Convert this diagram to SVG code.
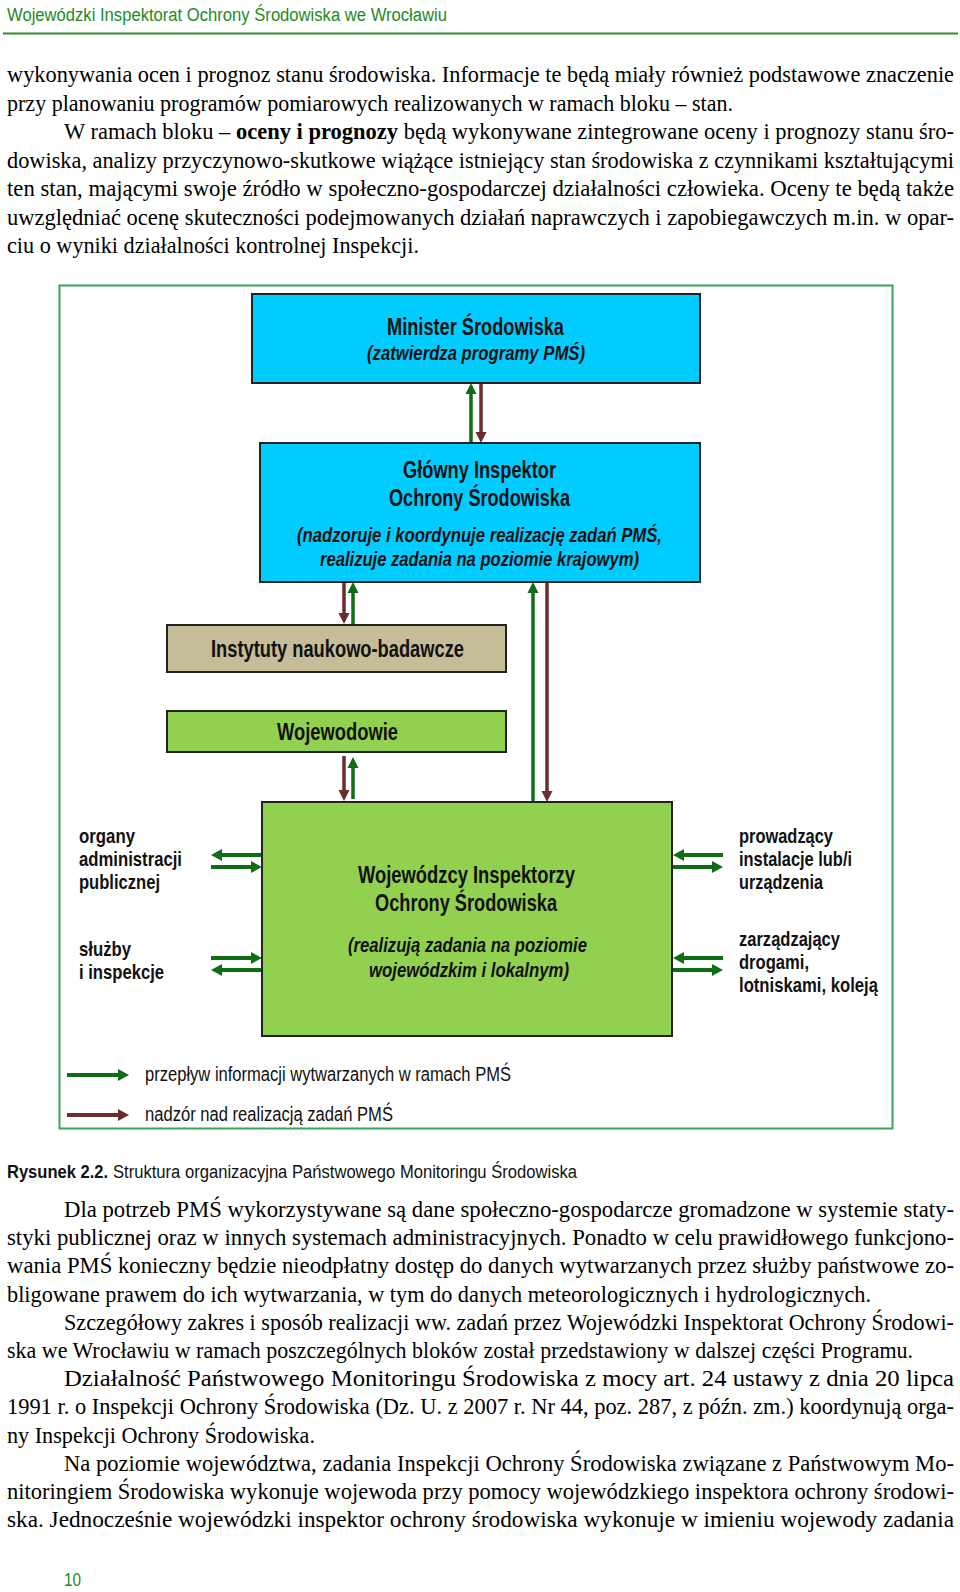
<svg xmlns="http://www.w3.org/2000/svg" width="960" height="1592" viewBox="0 0 960 1592">
<style>
.body{font-family:"Liberation Serif","Times New Roman",serif;font-size:22.5px;fill:#000}
.b{font-weight:bold}
.hd{font-family:"Liberation Sans",Arial,sans-serif;font-weight:bold;font-size:23px;fill:#111}
.it{font-family:"Liberation Sans",Arial,sans-serif;font-weight:bold;font-style:italic;font-size:19.5px;fill:#111}
.lb{font-family:"Liberation Sans",Arial,sans-serif;font-weight:bold;font-size:20.5px;fill:#111}
.lg{font-family:"Liberation Sans",Arial,sans-serif;font-size:19.5px;fill:#111}
.box{stroke:#222;stroke-width:2}
.g{stroke:#0d6e16;fill:none}
.r{stroke:#6e2b2b;fill:none}
.v{stroke-width:3.5}
.h{stroke-width:4}
</style>
<defs>
<marker id="gv" markerUnits="userSpaceOnUse" markerWidth="11" markerHeight="11" refX="0" refY="5.5" orient="auto" overflow="visible"><path d="M0,0 L11,5.5 L0,11 z" fill="#0d6e16"/></marker>
<marker id="rv" markerUnits="userSpaceOnUse" markerWidth="11" markerHeight="11" refX="0" refY="5.5" orient="auto" overflow="visible"><path d="M0,0 L11,5.5 L0,11 z" fill="#6e2b2b"/></marker>
<marker id="gh" markerUnits="userSpaceOnUse" markerWidth="11" markerHeight="12" refX="0" refY="6" orient="auto" overflow="visible"><path d="M0,0 L11,6 L0,12 z" fill="#0d6e16"/></marker>
<marker id="rh" markerUnits="userSpaceOnUse" markerWidth="11" markerHeight="12" refX="0" refY="6" orient="auto" overflow="visible"><path d="M0,0 L11,6 L0,12 z" fill="#6e2b2b"/></marker>
</defs>
<rect width="960" height="1592" fill="#fff"/>

<!-- header -->
<text x="7" y="21" font-family="Liberation Sans, Arial, sans-serif" font-size="18" fill="#1e8a1e" textLength="440" lengthAdjust="spacingAndGlyphs">Wojewódzki Inspektorat Ochrony Środowiska we Wrocławiu</text>
<line x1="3" y1="33.5" x2="958" y2="33.5" stroke="#2e8b2e" stroke-width="2"/>

<!-- top body text -->
<g class="body">
<text x="7" y="82" textLength="947" lengthAdjust="spacingAndGlyphs">wykonywania ocen i prognoz stanu środowiska. Informacje te będą miały również podstawowe znaczenie</text>
<text x="7" y="110.5" textLength="726" lengthAdjust="spacingAndGlyphs">przy planowaniu programów pomiarowych realizowanych w ramach bloku – stan.</text>
<text x="64" y="139" textLength="890" lengthAdjust="spacingAndGlyphs">W ramach bloku – <tspan class="b">oceny i prognozy</tspan> będą wykonywane zintegrowane oceny i prognozy stanu śro-</text>
<text x="7" y="167.5" textLength="947" lengthAdjust="spacingAndGlyphs">dowiska, analizy przyczynowo-skutkowe wiążące istniejący stan środowiska z czynnikami kształtującymi</text>
<text x="7" y="196" textLength="947" lengthAdjust="spacingAndGlyphs">ten stan, mającymi swoje źródło w społeczno-gospodarczej działalności człowieka. Oceny te będą także</text>
<text x="7" y="224.5" textLength="947" lengthAdjust="spacingAndGlyphs">uwzględniać ocenę skuteczności podejmowanych działań naprawczych i zapobiegawczych m.in. w opar-</text>
<text x="7" y="253" textLength="412" lengthAdjust="spacingAndGlyphs">ciu o wyniki działalności kontrolnej Inspekcji.</text>
</g>

<!-- frame -->
<rect id="frame" x="59.5" y="285.5" width="833" height="843" fill="none" stroke="#3aa35a" stroke-width="2"/>

<!-- connectors -->
<g id="connectors">
<line class="g v" x1="471" y1="443" x2="471" y2="394" marker-end="url(#gv)"/>
<line class="r v" x1="481" y1="383" x2="481" y2="432" marker-end="url(#rv)"/>
<line class="r v" x1="344" y1="582" x2="344" y2="613" marker-end="url(#rv)"/>
<line class="g v" x1="353" y1="624" x2="353" y2="593" marker-end="url(#gv)"/>
<line class="g v" x1="533" y1="802" x2="533" y2="593" marker-end="url(#gv)"/>
<line class="r v" x1="547" y1="582" x2="547" y2="791" marker-end="url(#rv)"/>
<line class="r v" x1="344" y1="756" x2="344" y2="790" marker-end="url(#rv)"/>
<line class="g v" x1="353" y1="799" x2="353" y2="768" marker-end="url(#gv)"/>
<!-- left side -->
<line class="g h" x1="262" y1="855" x2="222" y2="855" marker-end="url(#gh)"/>
<line class="g h" x1="211" y1="867" x2="251" y2="867" marker-end="url(#gh)"/>
<line class="g h" x1="211" y1="958" x2="251" y2="958" marker-end="url(#gh)"/>
<line class="g h" x1="262" y1="970" x2="222" y2="970" marker-end="url(#gh)"/>
<!-- right side -->
<line class="g h" x1="723" y1="855" x2="684" y2="855" marker-end="url(#gh)"/>
<line class="g h" x1="673" y1="867" x2="712" y2="867" marker-end="url(#gh)"/>
<line class="g h" x1="723" y1="958" x2="684" y2="958" marker-end="url(#gh)"/>
<line class="g h" x1="673" y1="970" x2="712" y2="970" marker-end="url(#gh)"/>
</g>

<g id="minister">
<rect class="box" x="252" y="294" width="448" height="89" fill="#00ccff"/>
<text class="hd" x="387" y="335" textLength="177" lengthAdjust="spacingAndGlyphs">Minister Środowiska</text>
<text class="it" x="367" y="360" textLength="218" lengthAdjust="spacingAndGlyphs">(zatwierdza programy PMŚ)</text>
</g>

<g id="gios">
<rect class="box" x="260" y="443" width="440" height="139" fill="#00ccff"/>
<text class="hd" x="403" y="478" textLength="153" lengthAdjust="spacingAndGlyphs">Główny Inspektor</text>
<text class="hd" x="389" y="506" textLength="181" lengthAdjust="spacingAndGlyphs">Ochrony Środowiska</text>
<text class="it" x="297" y="542" textLength="365" lengthAdjust="spacingAndGlyphs">(nadzoruje i koordynuje realizację zadań PMŚ,</text>
<text class="it" x="320" y="566" textLength="319" lengthAdjust="spacingAndGlyphs">realizuje zadania na poziomie krajowym)</text>
</g>

<g id="instytuty">
<rect class="box" x="167" y="625" width="339" height="47" fill="#c4bd97"/>
<text class="hd" x="211" y="657" font-size="22" textLength="253" lengthAdjust="spacingAndGlyphs">Instytuty naukowo-badawcze</text>
</g>

<g id="wojewodowie">
<rect class="box" x="167" y="711" width="339" height="41" fill="#92d050"/>
<text class="hd" x="277" y="740" font-size="22" textLength="121" lengthAdjust="spacingAndGlyphs">Wojewodowie</text>
</g>

<g id="wios">
<rect class="box" x="262" y="802" width="410" height="234" fill="#92d050"/>
<text class="hd" x="358" y="883" font-size="22" textLength="217" lengthAdjust="spacingAndGlyphs">Wojewódzcy Inspektorzy</text>
<text class="hd" x="375" y="911" font-size="22" textLength="182" lengthAdjust="spacingAndGlyphs">Ochrony Środowiska</text>
<text class="it" x="348" y="952" textLength="239" lengthAdjust="spacingAndGlyphs">(realizują zadania na poziomie</text>
<text class="it" x="369" y="977" textLength="200" lengthAdjust="spacingAndGlyphs">wojewódzkim i lokalnym)</text>
</g>

<g id="organy">
<text class="lb" x="79" y="843" textLength="56" lengthAdjust="spacingAndGlyphs">organy</text>
<text class="lb" x="79" y="866" textLength="103" lengthAdjust="spacingAndGlyphs">administracji</text>
<text class="lb" x="79" y="889" textLength="81" lengthAdjust="spacingAndGlyphs">publicznej</text>
</g>
<g id="sluzby">
<text class="lb" x="79" y="956" textLength="52" lengthAdjust="spacingAndGlyphs">służby</text>
<text class="lb" x="79" y="979" textLength="85" lengthAdjust="spacingAndGlyphs">i inspekcje</text>
</g>
<g id="prowadzacy">
<text class="lb" x="739" y="843" textLength="94" lengthAdjust="spacingAndGlyphs">prowadzący</text>
<text class="lb" x="739" y="866" textLength="113" lengthAdjust="spacingAndGlyphs">instalacje lub/i</text>
<text class="lb" x="739" y="889" textLength="84" lengthAdjust="spacingAndGlyphs">urządzenia</text>
</g>
<g id="zarzadzajacy">
<text class="lb" x="739" y="946" textLength="101" lengthAdjust="spacingAndGlyphs">zarządzający</text>
<text class="lb" x="739" y="969" textLength="70" lengthAdjust="spacingAndGlyphs">drogami,</text>
<text class="lb" x="739" y="992" textLength="139" lengthAdjust="spacingAndGlyphs">lotniskami, koleją</text>
</g>

<g id="legend">
<line class="g h" x1="67" y1="1075" x2="118" y2="1075" marker-end="url(#gh)"/>
<text class="lg" x="145" y="1081" textLength="366" lengthAdjust="spacingAndGlyphs">przepływ informacji wytwarzanych w ramach PMŚ</text>
<line class="r h" x1="67" y1="1115" x2="118" y2="1115" marker-end="url(#rh)"/>
<text class="lg" x="145" y="1121" textLength="248" lengthAdjust="spacingAndGlyphs">nadzór nad realizacją zadań PMŚ</text>
</g>

<!-- caption -->
<text x="7" y="1178" font-family="Liberation Sans, Arial, sans-serif" font-size="18" font-weight="bold" fill="#111" textLength="101" lengthAdjust="spacingAndGlyphs">Rysunek 2.2.</text>
<text x="113" y="1178" font-family="Liberation Sans, Arial, sans-serif" font-size="18" fill="#111" textLength="464" lengthAdjust="spacingAndGlyphs">Struktura organizacyjna Państwowego Monitoringu Środowiska</text>

<!-- lower body text -->
<g class="body">
<text x="64" y="1217" textLength="890" lengthAdjust="spacingAndGlyphs">Dla potrzeb PMŚ wykorzystywane są dane społeczno-gospodarcze gromadzone w systemie staty-</text>
<text x="7" y="1245.2" textLength="947" lengthAdjust="spacingAndGlyphs">styki publicznej oraz w innych systemach administracyjnych. Ponadto w celu prawidłowego funkcjono-</text>
<text x="7" y="1273.4" textLength="947" lengthAdjust="spacingAndGlyphs">wania PMŚ konieczny będzie nieodpłatny dostęp do danych wytwarzanych przez służby państwowe zo-</text>
<text x="7" y="1301.6" textLength="864" lengthAdjust="spacingAndGlyphs">bligowane prawem do ich wytwarzania, w tym do danych meteorologicznych i hydrologicznych.</text>
<text x="64" y="1329.8" textLength="890" lengthAdjust="spacingAndGlyphs">Szczegółowy zakres i sposób realizacji ww. zadań przez Wojewódzki Inspektorat Ochrony Środowi-</text>
<text x="7" y="1358" textLength="906" lengthAdjust="spacingAndGlyphs">ska we Wrocławiu w ramach poszczególnych bloków został  przedstawiony w dalszej części Programu.</text>
<text x="64" y="1386.2" textLength="890" lengthAdjust="spacingAndGlyphs">Działalność Państwowego Monitoringu Środowiska z mocy art. 24 ustawy z dnia 20 lipca</text>
<text x="7" y="1414.4" textLength="947" lengthAdjust="spacingAndGlyphs">1991 r. o Inspekcji Ochrony Środowiska (Dz. U. z 2007 r. Nr 44, poz. 287, z późn. zm.) koordynują orga-</text>
<text x="7" y="1442.6" textLength="308" lengthAdjust="spacingAndGlyphs">ny Inspekcji Ochrony Środowiska.</text>
<text x="64" y="1470.8" textLength="890" lengthAdjust="spacingAndGlyphs">Na poziomie województwa, zadania Inspekcji Ochrony Środowiska związane z Państwowym Mo-</text>
<text x="7" y="1499" textLength="947" lengthAdjust="spacingAndGlyphs">nitoringiem Środowiska wykonuje wojewoda przy pomocy wojewódzkiego inspektora ochrony środowi-</text>
<text x="7" y="1527.2" textLength="947" lengthAdjust="spacingAndGlyphs">ska. Jednocześnie wojewódzki inspektor ochrony środowiska wykonuje w imieniu wojewody zadania</text>
</g>

<text x="64" y="1586" font-family="Liberation Sans, Arial, sans-serif" font-size="18" fill="#1e8a1e" textLength="17" lengthAdjust="spacingAndGlyphs">10</text>
</svg>
